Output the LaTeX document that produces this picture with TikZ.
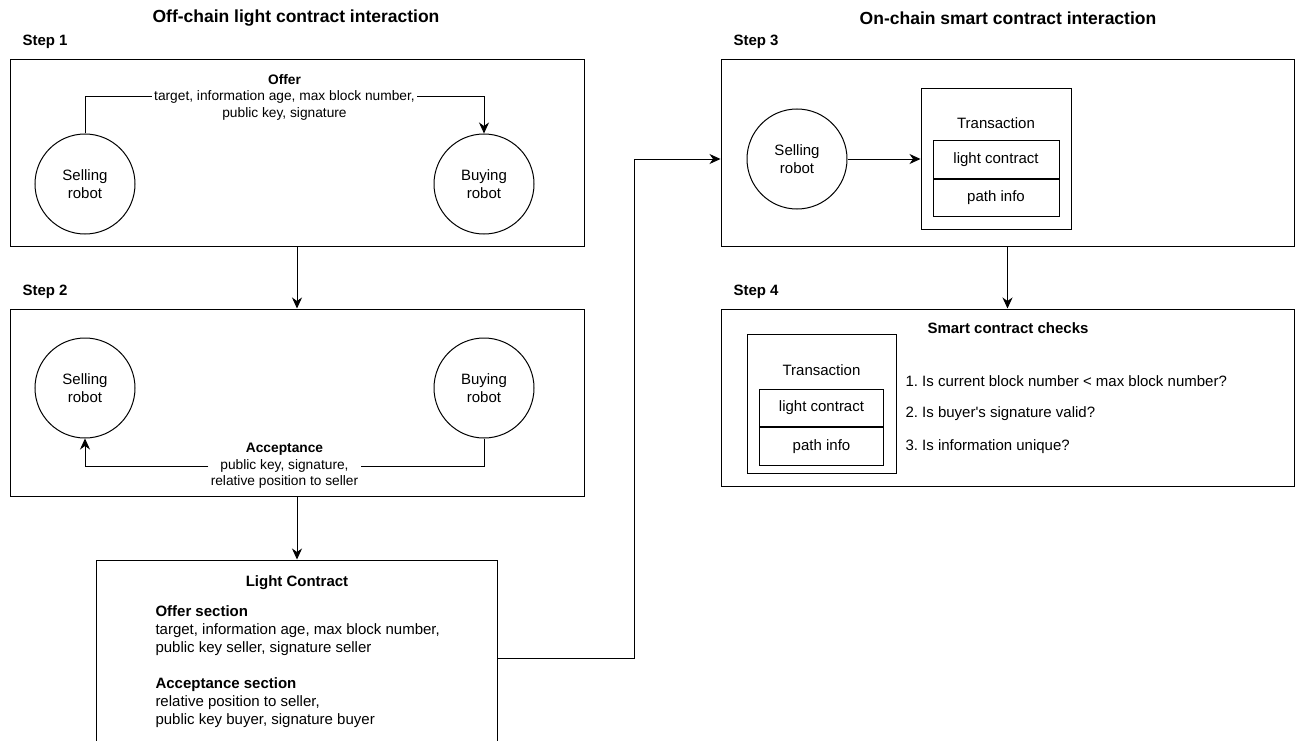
\documentclass[tikz,border=0pt]{standalone}
\usepackage{fontspec}
\setmainfont{Liberation Sans}[Ligatures=TeXOff]
\usepackage{tikz}
\usetikzlibrary{positioning,arrows.meta}
\frenchspacing

\begin{document}
\begin{tikzpicture}[
  x=1pt, y=-1pt,
  font=\fontsize{15}{18}\selectfont,
  >={Stealth[length=11pt,width=10pt,inset=3.5pt]},
  line width=1pt,
  box/.style={draw, inner sep=0pt},
  robot/.style={draw, circle, minimum size=100pt, inner sep=0pt, align=center},
  lbl/.style={inner sep=2pt, align=center},
  edgelbl/.style={lbl, font=\fontsize{13.75}{16.5}\selectfont},
  bold/.style={font=\fontsize{15}{18}\selectfont\bfseries},
  title/.style={font=\fontsize{17.5}{21}\selectfont\bfseries},
  steplbl/.style={anchor=west, inner sep=0pt, bold},
  cell/.style={draw, minimum width=126pt, minimum height=37.5pt, inner sep=0pt}
]
\useasboundingbox (0,0) rectangle (1298,741);
% headings
\node[title] (offtitle) at (296,18)  {Off-chain light contract interaction};
\node[title] (ontitle)  at (1008,18) {On-chain smart contract interaction};
% step 1: offer
\node[steplbl] (step1) at (22,42) {Step 1};
\node[box, minimum width=574pt, minimum height=186pt] (box1) at (297,153) {};
\node[robot] (sell1) at (85,184)  {Selling\\robot};
\node[robot] (buy1)  at (484,184) {Buying\\robot};
\node[edgelbl] (offer) at (284.5,97) {\textbf{Offer}\\target, information age, max block number,\\public key, signature};
% step 2: acceptance
\node[steplbl] (step2) at (22,292) {Step 2};
\node[box, minimum width=574pt, minimum height=187pt] (box2) at (297,402.5) {};
\node[robot] (sell2) at (85,388)  {Selling\\robot};
\node[robot] (buy2)  at (484,388) {Buying\\robot};
\node[edgelbl] (accept) at (284.5,466) {\textbf{Acceptance}\\public key, signature,\\relative position to seller};
% light contract
\node[box, minimum width=401pt, minimum height=196pt] (lc) at (297,658) {};
\node[lbl, bold] (lctitle) at (297,583) {Light Contract};
\node[lbl, anchor=west, align=left] (offsec) at (153,631) {\textbf{Offer section}\\target, information age, max block number,\\public key seller, signature seller};
\node[lbl, anchor=west, align=left] (accsec) at (153,703) {\textbf{Acceptance section}\\relative position to seller,\\public key buyer, signature buyer};
\coordinate (via) at (634,658);
% step 3: transaction
\node[steplbl] (step3) at (733,42) {Step 3};
\node[box, minimum width=573pt, minimum height=186pt] (box3) at (1007.5,153) {};
\node[robot] (sell3) at (797,159) {Selling\\robot};
\node[box, minimum width=150pt, minimum height=140pt] (trans3) at (996,159) {};
\node[lbl] (trtitle3) at (996,123) {Transaction};
\node[cell] (lcell3) at (996,159.5) {light contract};
\node[cell, below=0pt of lcell3] (pcell3) {path info};
% step 4: checks
\node[steplbl] (step4) at (733,292) {Step 4};
\node[box, minimum width=573pt, minimum height=177pt] (box4) at (1007.5,397.5) {};
\node[lbl, bold] (checks) at (1008,328) {Smart contract checks};
\node[box, minimum width=149pt, minimum height=139pt] (trans4) at (821.5,403.5) {};
\node[lbl] (trtitle4) at (821.5,370) {Transaction};
\node[cell, minimum width=124pt] (lcell4) at (821.5,408) {light contract};
\node[cell, minimum width=124pt, below=0pt of lcell4] (pcell4) {path info};
\node[lbl, anchor=west] (chk1) at (903,381) {1. Is current block number < max block number?};
\node[lbl, anchor=west] (chk2) at (903,414) {2. Is buyer's signature valid?};
\node[lbl, anchor=west] (chk3) at (903,447) {3. Is information unique?};
% arrows
\draw (sell1.north) |- (offer.west);
\draw[->] (offer.east) -| (buy1.north);
\draw (buy2.south) |- (accept.east);
\draw[->] (accept.west) -| (sell2.south);
\draw[->] (box1.south) -- (box2.north);
\draw[->] (box2.south) -- (lc.north);
\draw[->] (lc.east) -- (via) |- (box3.west |- sell3);
\draw[->] (sell3) -- (trans3);
\draw[->] (box3.south) -- (box4.north);
\end{tikzpicture}
\end{document}
